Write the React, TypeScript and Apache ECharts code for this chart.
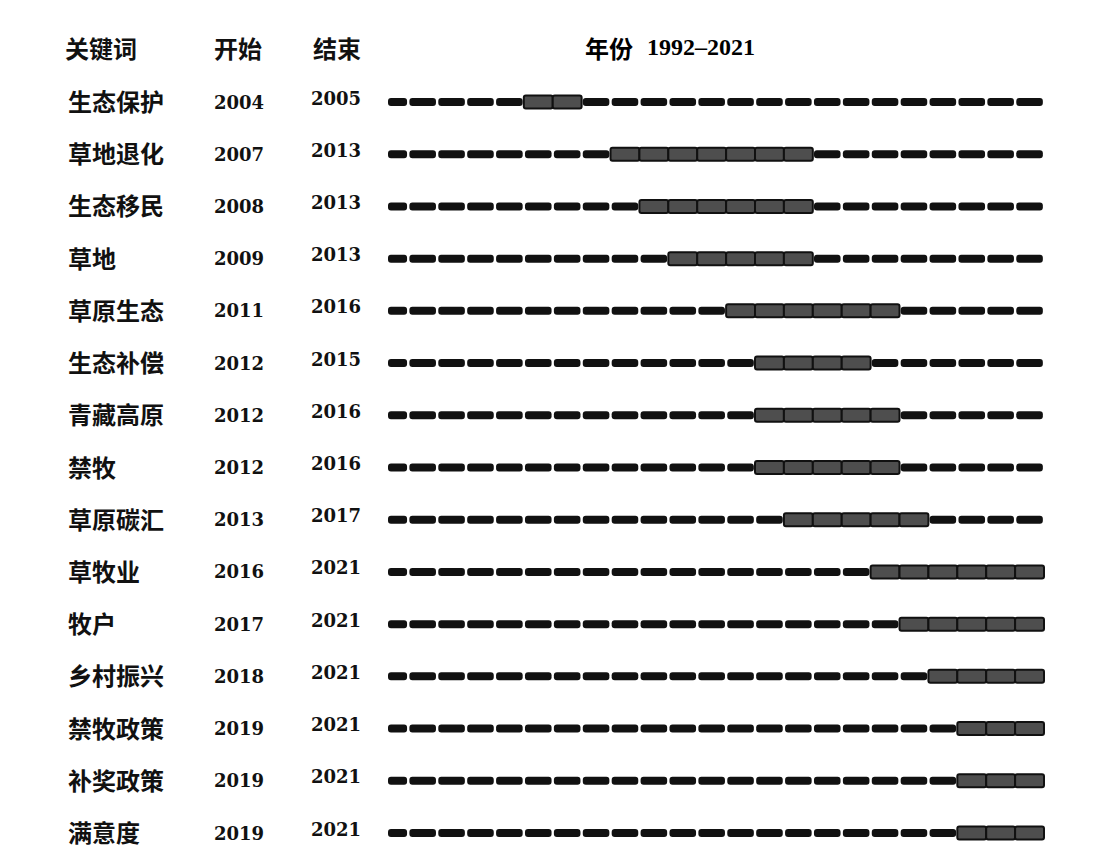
import React, { useEffect, useRef } from "react";
import * as echarts from "echarts";

const keywords = ["生态保护", "草地退化", "生态移民", "草地", "草原生态", "生态补偿", "青藏高原", "禁牧", "草原碳汇", "草牧业", "牧户", "乡村振兴", "禁牧政策", "补奖政策", "满意度"];
const startYears = [2004, 2007, 2008, 2009, 2011, 2012, 2012, 2012, 2013, 2016, 2017, 2018, 2019, 2019, 2019];
const endYears = [2005, 2013, 2013, 2013, 2016, 2015, 2016, 2016, 2017, 2021, 2021, 2021, 2021, 2021, 2021];
const firstYear = 1992;
const lastYear = 2021;
const headerLabels = ["关键词", "开始", "结束"];
const headerYearTitle = "年份";
const headerYearRange = "1992–2021";

const CJK = '"Noto Sans CJK SC", sans-serif';
const NUM = '"DejaVu Serif", serif';
const HNUM = '"Liberation Serif", serif';

export default function App() {
  const ref = useRef<HTMLDivElement>(null);
  useEffect(() => {
    if (!ref.current) return;
    const chart = echarts.init(ref.current, null, { renderer: "svg" });
    const data: any[] = [];
    keywords.forEach((_, i) => {
      for (let y = firstYear; y <= lastYear; y++) {
        const burst = y >= startYears[i] && y <= endYears[i] ? 1 : 0;
        data.push([y, i, burst]);
      }
    });
    const option: any = {
      animation: false,
      backgroundColor: "#ffffff",
      grid: { left: 388, right: 70, top: 102, bottom: 15 },
      xAxis: { type: "value", min: 1999.3, max: 2022, show: false },
      yAxis: {
        type: "category",
        data: keywords,
        inverse: true,
        boundaryGap: false,
        axisLine: { show: false },
        axisTick: { show: false },
        splitLine: { show: false },
        axisLabel: {
          align: "left",
          margin: 320,
          padding: [0, 0, 3, 0],
          formatter: (value: string, index: number) => `{k|${value}}{s|${startYears[index]}}{e|${endYears[index]}}`,
          rich: {
            k: { width: 146, fontFamily: CJK, fontSize: 24, fontWeight: "bold", color: "#111" },
            s: { width: 97, fontFamily: NUM, fontSize: 18, fontWeight: "bold", color: "#111", padding: [3, 0, 0, 0] },
            e: { width: 60, fontFamily: NUM, fontSize: 18, fontWeight: "bold", color: "#111", padding: [0, 0, 5, 0] },
          },
        },
      },
      graphic: [
        { type: "text", left: 65, top: 35, style: { text: headerLabels[0], font: `bold 24px ${CJK}`, fill: "#111" } },
        { type: "text", left: 214, top: 35, style: { text: headerLabels[1], font: `bold 24px ${CJK}`, fill: "#111" } },
        { type: "text", left: 313, top: 35, style: { text: headerLabels[2], font: `bold 24px ${CJK}`, fill: "#111" } },
        {
          type: "text",
          left: 585,
          top: 35,
          style: {
            text: `{a|${headerYearTitle}}{b|${headerYearRange}}`,
            rich: {
              a: { fontFamily: CJK, fontSize: 24, fontWeight: "bold", color: "#111", width: 62 },
              b: { fontFamily: HNUM, fontSize: 24, fontWeight: "bold", color: "#111" },
            },
          },
        },
      ],
      series: [
        {
          type: "custom",
          data,
          renderItem: (params: any, api: any) => {
            const year = api.value(0);
            const row = api.value(1);
            const burst = api.value(2) === 1;
            const cs = params.coordSys;
            const pad = burst ? 0 : 0.04;
            const p1 = api.coord([year + pad, row]);
            const p2 = api.coord([year + 1 - pad, row]);
            const left = Math.max(p1[0], cs.x);
            const right = Math.min(p2[0], cs.x + cs.width);
            if (right <= left) return null;
            const h = burst ? 13 : 8;
            return {
              type: "rect",
              shape: { x: left, y: p1[1] - h / 2, width: right - left, height: h, r: burst ? 2 : 3 },
              style: burst
                ? { fill: "#4e4e4e", stroke: "#111111", lineWidth: 2 }
                : { fill: "#111111" },
            };
          },
        },
      ],
    };
    chart.setOption(option);
    return () => chart.dispose();
  }, []);
  return (
    <div
      ref={ref}
      style={{ position: "absolute", left: 0, top: 0, width: 1114, height: 848, background: "#fff" }}
    />
  );
}
